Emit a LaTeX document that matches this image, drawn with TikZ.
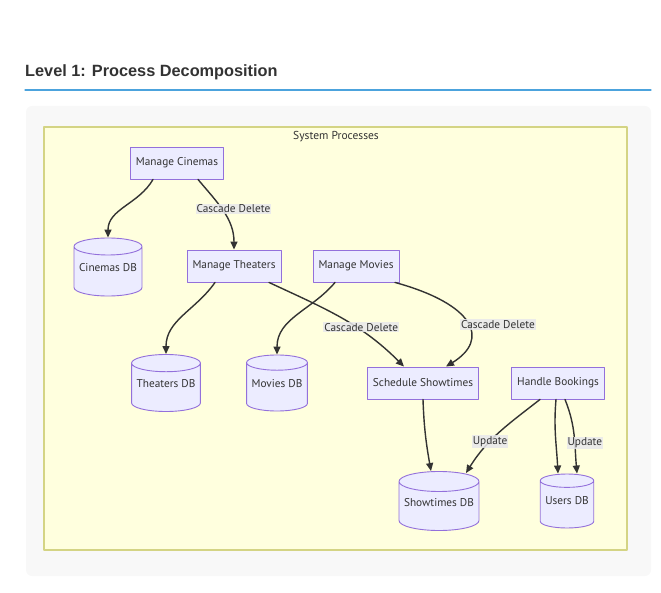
\documentclass[tikz,border=0pt]{standalone}
\usepackage{fontspec}
\setmainfont{PT Sans}
\newfontfamily\headfont{Liberation Sans}
\usetikzlibrary{shapes.geometric,arrows.meta}
\definecolor{ink}{HTML}{333333}
\definecolor{procfill}{HTML}{ECECFF}
\definecolor{procline}{HTML}{9370DB}
\definecolor{groupfill}{HTML}{FFFFDE}
\definecolor{groupline}{HTML}{D4D484}
\definecolor{panelfill}{HTML}{F8F8F8}
\definecolor{headrule}{HTML}{4CA3DD}
\definecolor{lblfill}{HTML}{E8E8EC}
\newcommand\dbtext[1]{\raisebox{6pt}[\height][\depth]{#1}}
\tikzset{
  proc/.style={draw=procline, fill=procfill, line width=0.9pt, text=ink,
    minimum height=32pt, inner xsep=5.5pt, font=\fontsize{11.3}{13}\selectfont},
  store/.style={cylinder, shape border rotate=90, aspect=0.25, anchor=shape center,
    draw=procline, fill=procfill, line width=0.9pt, text=ink, minimum height=57pt,
    inner xsep=5pt, font=\fontsize{11.3}{13}\selectfont},
  flow/.style={->, draw=ink, line width=1.4pt},
  lbl/.style={fill=lblfill, fill opacity=.85, text opacity=1, text=ink,
    inner sep=1pt, font=\fontsize{11.3}{12}\selectfont},
}
\begin{document}
\begin{tikzpicture}[x=1pt, y=1pt, line join=round, line cap=round, >={Triangle[length=8pt,width=7pt]}]
\useasboundingbox (0,0) rectangle (661,-593);
% heading and background
\node[anchor=base west, inner sep=0, text=ink, font=\headfont\bfseries\fontsize{16.3}{18}\selectfont] (head) at (25,-77) {Level 1: Process Decomposition};
\draw[headrule, line width=1.3pt] (25,-90) -- (651,-90);
\fill[panelfill, rounded corners=6pt] (26,-106) rectangle (651,-576);
\draw[groupline, fill=groupfill, line width=1.2pt] (44,-127) rectangle (627,-550);
\node[text=ink, font=\fontsize{11.5}{13}\selectfont] (grp) at (336,-137) {System Processes};
% processes and stores
\node[proc] (mc) at (177,-163) {Manage Cinemas};
\node[store, minimum height=58pt] (cdb) at (108,-267) {\dbtext{Cinemas DB}};
\node[proc] (mt) at (234,-266) {Manage Theaters};
\node[proc] (mm) at (356,-266) {Manage Movies};
\node[store] (tdb) at (166,-383) {\dbtext{Theaters DB}};
\node[store, minimum height=56pt] (mdb) at (277,-383) {\dbtext{Movies DB}};
\node[proc] (ss) at (423,-383) {Schedule Showtimes};
\node[proc] (hb) at (558,-383) {Handle Bookings};
\node[store, minimum height=59pt] (sdb) at (439,-501) {\dbtext{Showtimes DB}};
\node[store, minimum height=54pt] (udb) at (567,-501) {\dbtext{Users DB}};
% flows
\draw[flow] ([xshift=-24pt]mc.south) to[out=-120,in=90] (cdb.north);
\draw[flow] ([xshift=21pt]mc.south) to[out=-50,in=90] node[lbl,pos=.45,xshift=12pt]{Cascade Delete} (mt.north);
\draw[flow] ([xshift=-19pt]mt.south) to[out=-125,in=90] (tdb.north);
\draw[flow] ([xshift=35pt]mt.south) to[out=-25,in=135] node[lbl,pos=.62,xshift=5pt]{Cascade Delete} ([xshift=-19pt]ss.north);
\draw[flow] ([xshift=-21pt]mm.south) to[out=-130,in=90] (mdb.north);
\draw[flow] ([xshift=39pt]mm.south) .. controls +(80,-22) and +(44,27) .. node[lbl,pos=.52,xshift=30pt]{Cascade Delete} ([xshift=23pt]ss.north);
\draw[flow] (ss.south) to[out=-88,in=100] ([xshift=-8pt]sdb.north);
\draw[flow] ([xshift=-18pt]hb.south) to[out=-142,in=58] node[lbl,pos=.63]{Update} ([xshift=27pt,yshift=-2pt]sdb.north);
\draw[flow] ([xshift=-2pt]hb.south) to[out=-95,in=93] ([xshift=-9pt]udb.north);
\draw[flow] ([xshift=7pt]hb.south) to[out=-68,in=95] node[lbl,pos=.6,xshift=10pt]{Update} ([xshift=10pt]udb.north);
\end{tikzpicture}
\end{document}
